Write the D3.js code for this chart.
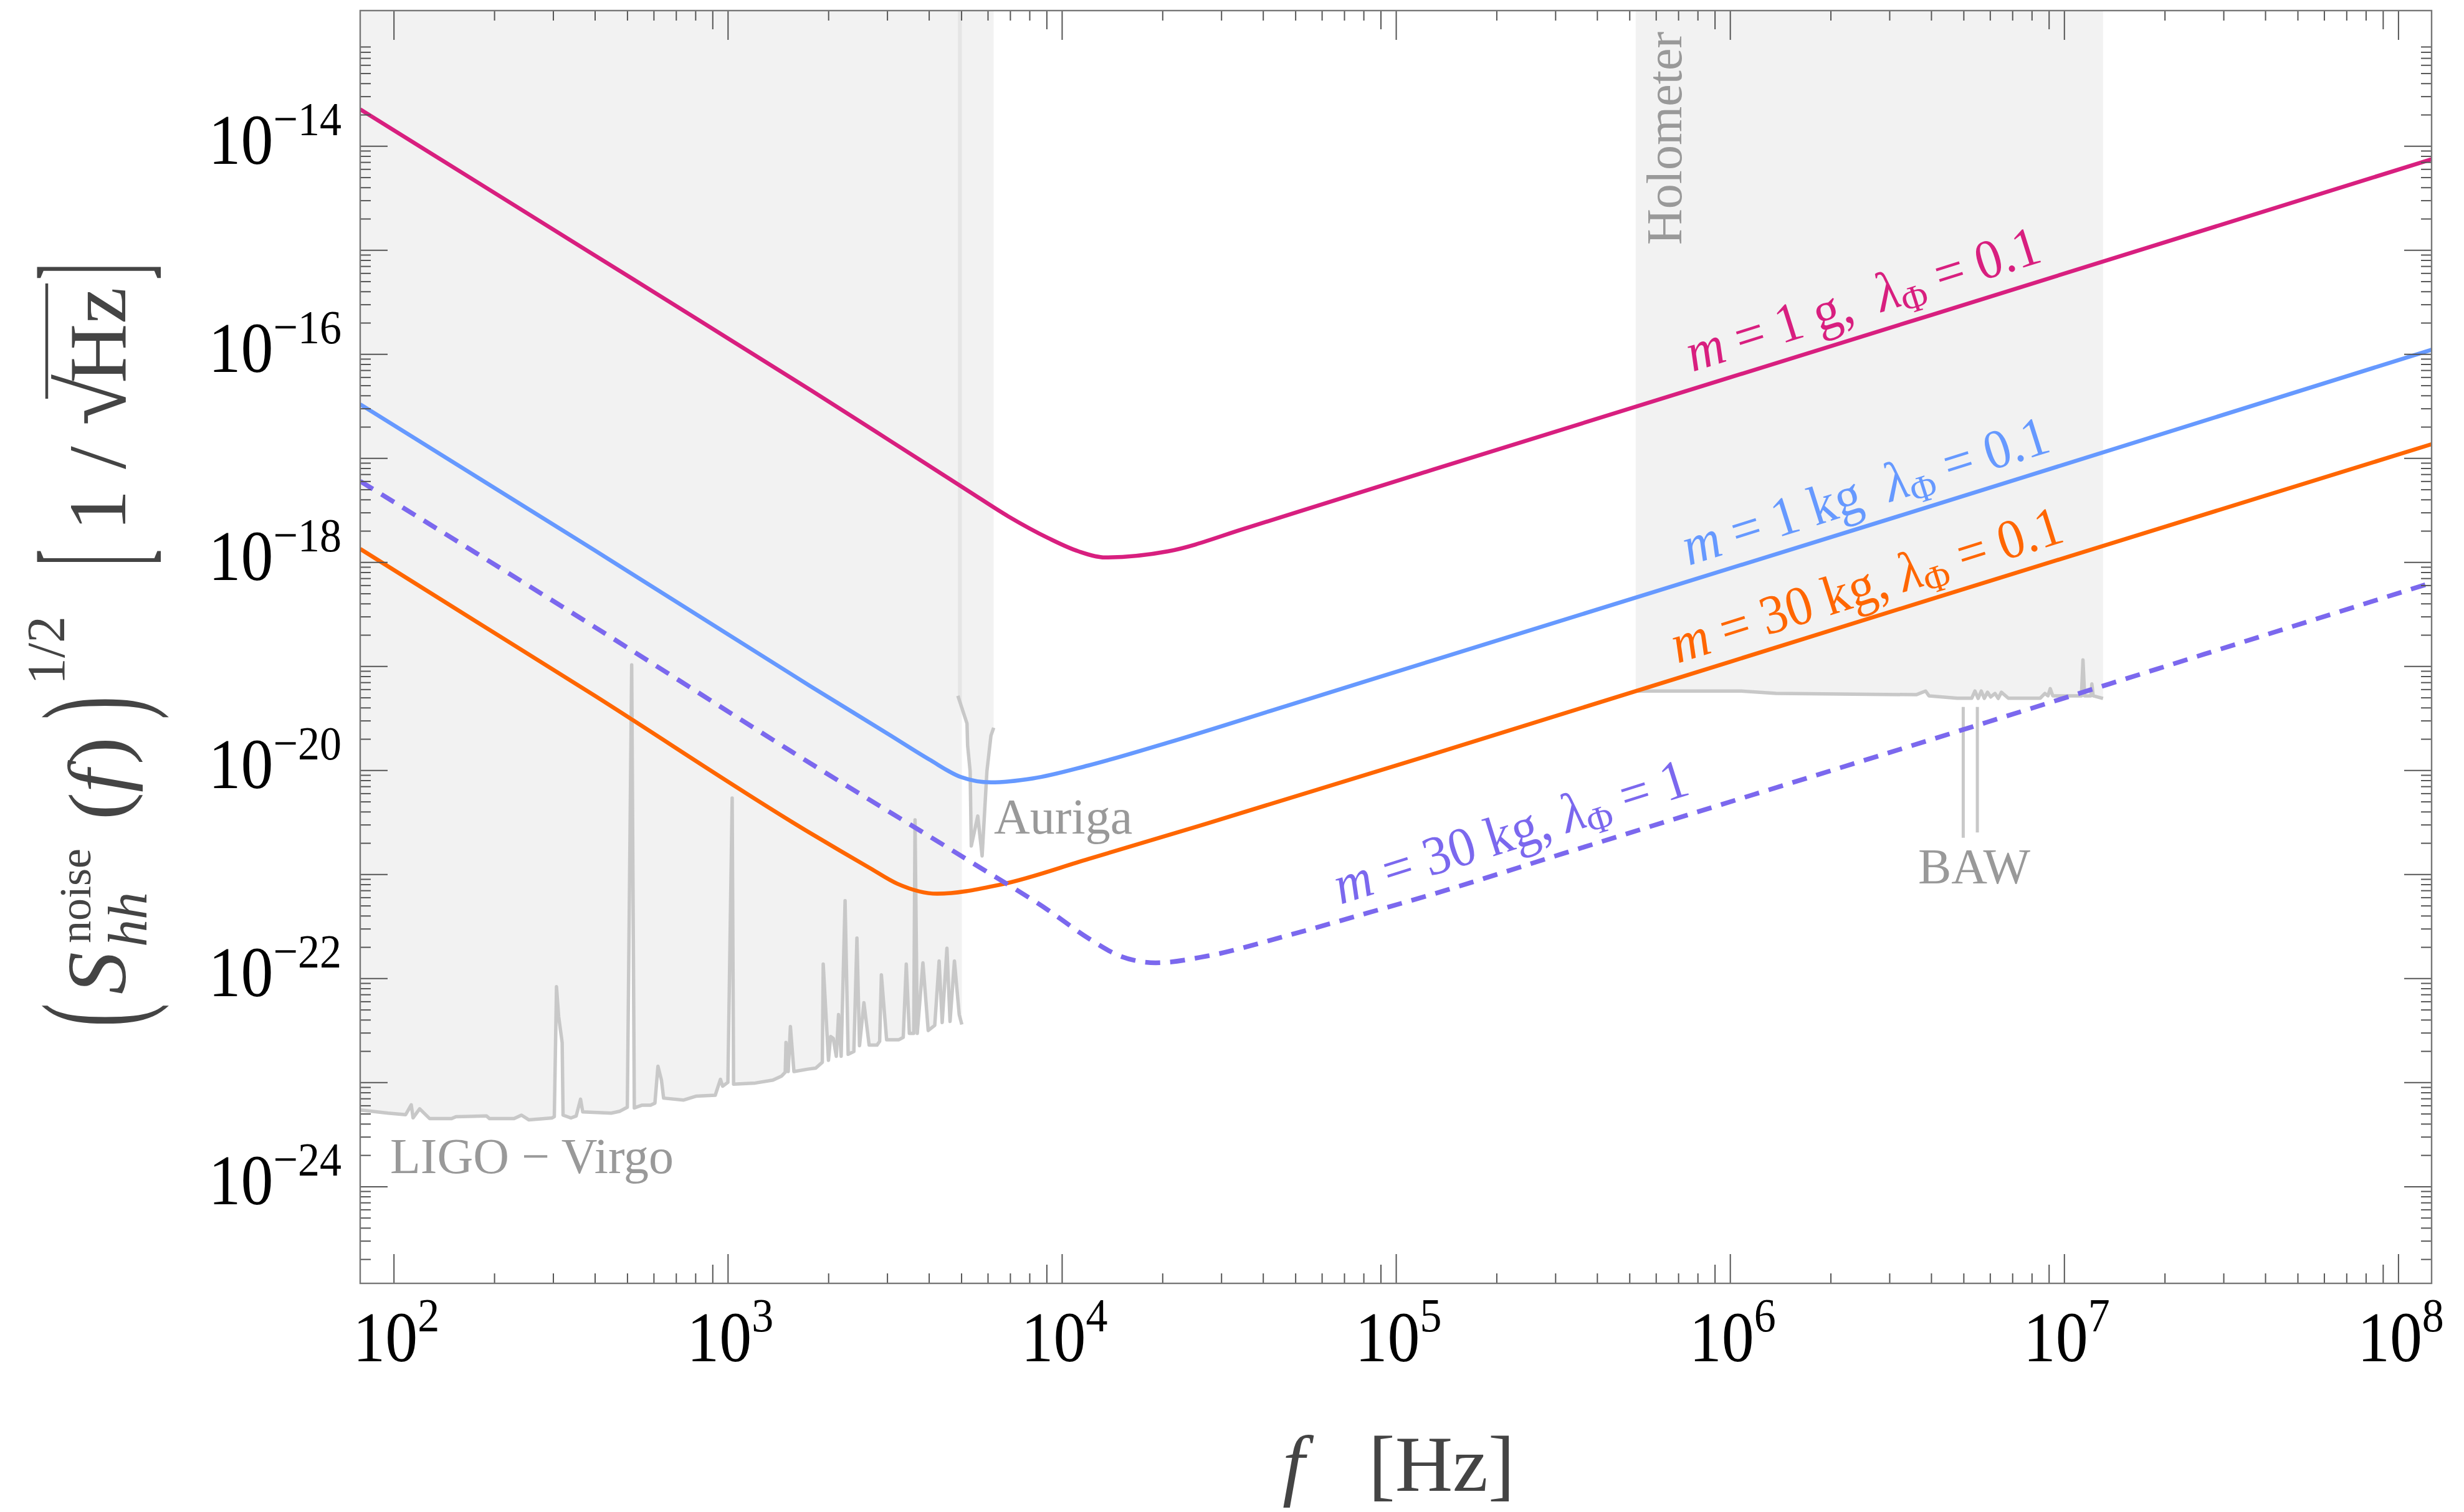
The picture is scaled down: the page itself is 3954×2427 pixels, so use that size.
<!DOCTYPE html>
<html>
<head>
<meta charset="utf-8">
<script src="https://cdn.jsdelivr.net/npm/d3@7"></script>
<style>
html, body { margin: 0; padding: 0; background: #fff; }
svg { display: block; font-family: "Liberation Serif", "Times New Roman", serif; }
text { white-space: pre; }
</style>
</head>
<body>
<svg id="chart" width="3954" height="2427"></svg>
<script>
// ---- data (f in Hz, amplitude in 1/sqrt(Hz)) ----
const xDomain = [79.4, 1.259e8];
const yDomain = [1.17e-25, 2e-13];

// m = 1 g, lambda = 0.1
const pinkF = [79.4, 398, 1778, 3048, 5272, 6918, 9120, 11220, 13490, 20750, 35890, 62090, 129400, 3.98e6, 1.259e8];
const pinkH = [2.25e-14, 8.97e-16, 4.47e-17, 1.48e-17, 4.79e-18, 2.75e-18, 1.70e-18, 1.27e-18, 1.11e-18, 1.27e-18, 2.14e-18, 3.72e-18, 7.76e-18, 2.36e-16, 7.45e-15];

// m = 1 kg, lambda = 0.1
const blueF = [79.4, 398, 1762, 3048, 4009, 4989, 6138, 8185, 12000, 20750, 47210, 129400, 3.98e6, 1.259e8];
const blueH = [3.29e-17, 1.31e-18, 6.47e-20, 2.19e-20, 1.27e-20, 8.60e-21, 7.64e-21, 8.34e-21, 1.11e-20, 1.84e-20, 4.17e-20, 1.14e-19, 3.44e-18, 1.10e-16];

// m = 30 kg, lambda = 0.1
const orangeF = [79.4, 398, 1762, 2661, 3221, 4236, 6561, 12000, 27290, 129400, 3.98e6, 1.259e8];
const orangeH = [1.34e-18, 5.25e-20, 2.50e-21, 1.15e-21, 8.10e-22, 6.50e-22, 7.96e-22, 1.40e-21, 3.09e-21, 1.43e-20, 4.39e-19, 1.36e-17];

// m = 30 kg, lambda = 1 (dashed)
const purpleF = [79.4, 398, 1811, 5272, 9120, 12000, 14930, 19100, 27290, 47210, 81660, 129400, 316200, 3.98e6, 1.259e8];
const purpleH = [6.00e-18, 2.40e-19, 1.11e-20, 1.35e-21, 4.50e-22, 2.43e-22, 1.64e-22, 1.41e-22, 1.64e-22, 2.57e-22, 4.22e-22, 6.46e-22, 1.58e-21, 1.96e-20, 6.34e-19];

// LIGO - Virgo noise
const ligoF = [79.4, 96.3, 108.6, 112.9, 114.3, 119.6, 128.2, 149.1, 153.6, 189.7, 193.7, 229.3, 241.3, 254.1, 298.1, 302.6, 307.2, 311.8, 319.4, 321.4,
  339.3, 351.8, 362.6, 368.1, 447.7, 475.6, 500.5, 515.8, 525.2, 552.9, 587.3, 605.3, 618.1, 633.3, 642.7, 736.1, 805.8, 917.3, 951.1, 965.4,
  1001, 1031, 1041, 1210, 1365, 1450, 1486, 1494, 1517, 1540, 1578, 1738, 1834, 1919, 1931, 2002, 2032, 2070, 2113, 2146,
  2185, 2245, 2293, 2385, 2436, 2480, 2556, 2650, 2797, 2849, 2883, 2989, 3253, 3352, 3423, 3496, 3603, 3636, 3692, 3839,
  3981, 4165, 4292, 4384, 4530, 4628, 4770, 4930, 5020];
const ligoH = [5.43e-24, 5.06e-24, 4.89e-24, 6.08e-24, 4.56e-24, 5.57e-24, 4.48e-24, 4.48e-24, 4.68e-24, 4.75e-24, 4.48e-24, 4.48e-24, 4.84e-24, 4.36e-24, 4.55e-24, 4.68e-24, 8.30e-23, 4.29e-23, 2.42e-23, 4.84e-24,
  4.55e-24, 4.75e-24, 6.89e-24, 5.20e-24, 5.06e-24, 5.28e-24, 5.77e-24, 1.03e-19, 5.68e-24, 6.03e-24, 6.03e-24, 6.31e-24, 1.43e-23, 1.05e-23, 7.06e-24, 6.76e-24, 7.38e-24, 7.52e-24, 1.07e-23, 9.20e-24,
  1.00e-23, 5.41e-21, 9.62e-24, 9.86e-24, 1.05e-23, 1.15e-23, 1.25e-23, 2.42e-23, 1.27e-23, 3.44e-23, 1.27e-23, 1.34e-23, 1.37e-23, 1.56e-23, 1.37e-22, 1.63e-23, 2.76e-23, 2.64e-23, 1.78e-23, 4.48e-23,
  1.78e-23, 5.58e-22, 1.86e-23, 1.98e-23, 2.44e-22, 2.25e-23, 5.83e-23, 2.28e-23, 2.28e-23, 2.48e-23, 1.08e-22, 2.57e-23, 2.57e-23, 2.71e-23, 1.37e-22, 2.96e-23, 2.96e-23, 3.33e-21, 2.96e-23, 1.41e-22,
  3.15e-23, 3.53e-23, 1.47e-22, 3.76e-23, 1.95e-22, 3.85e-23, 1.47e-22, 4.48e-23, 3.60e-23];

// Auriga
const aurigaF = [4885, 5202, 5224, 5316, 5358, 5602, 5773, 5967, 6135, 6252];
const aurigaH = [5.19e-20, 2.81e-20, 1.73e-20, 9.75e-21, 1.87e-21, 3.63e-21, 1.50e-21, 9.75e-21, 2.15e-20, 2.56e-20];

// Holometer
const holoF = [5.22e5, 1.08e6, 1.374e6, 3.61e6, 3.85e6, 3.94e6, 4.79e6, 5.29e6, 5.41e6, 5.53e6, 5.65e6, 5.77e6, 5.90e6, 6.03e6, 6.21e6,
  6.35e6, 6.49e6, 6.81e6, 8.48e6, 8.76e6, 8.95e6, 9.09e6, 9.25e6, 1.127e7, 1.139e7, 1.152e7, 1.203e7, 1.211e7, 1.222e7, 1.308e7];
const holoH = [5.77e-20, 5.77e-20, 5.47e-20, 5.32e-20, 5.77e-20, 5.19e-20, 4.92e-20, 4.92e-20, 5.77e-20, 4.90e-20, 5.77e-20, 4.90e-20, 5.62e-20, 5.06e-20, 5.47e-20,
  4.90e-20, 5.62e-20, 4.92e-20, 4.92e-20, 5.47e-20, 5.19e-20, 6.08e-20, 5.19e-20, 5.19e-20, 1.15e-19, 5.19e-20, 5.19e-20, 6.75e-20, 5.19e-20, 4.90e-20];

// BAW resonances
const bawF = [4.99e6, 5.5e6];
const bawTop = [4.06e-20, 4.06e-20];
const bawBottom = [2.24e-21, 2.52e-21];

// tick labels (powers of ten)
const xLabelExp = [2, 3, 4, 5, 6, 7, 8];
const yLabelExp = [-14, -16, -18, -20, -22, -24];

// ---- layout ----
const plot = { left: 578, right: 3902, top: 17, bottom: 2060 };

const svg = d3.select("#chart");

const x = d3.scaleLog().domain(xDomain).range([plot.left, plot.right]);
const y = d3.scaleLog().domain(yDomain).range([plot.bottom, plot.top]);

const zip = (a, b) => a.map((v, i) => [v, b[i]]);

svg.append("defs").append("clipPath").attr("id", "clip")
  .append("rect")
  .attr("x", plot.left).attr("y", plot.top)
  .attr("width", plot.right - plot.left).attr("height", plot.bottom - plot.top);

const g = svg.append("g").attr("clip-path", "url(#clip)");

// excluded regions: fill from the noise curve up to the top
const fillArea = d3.area()
  .x(d => x(d[0]))
  .y0(plot.top)
  .y1(d => y(d[1]));

const noise = [zip(ligoF, ligoH), zip(aurigaF, aurigaH), zip(holoF, holoH)];
noise.forEach(pts => {
  g.append("path")
    .datum(pts)
    .attr("d", fillArea)
    .attr("fill", "#000")
    .attr("fill-opacity", 0.05);
});

// noise curves
const rawLine = d3.line().x(d => x(d[0])).y(d => y(d[1]));
noise.forEach(pts => {
  g.append("path")
    .datum(pts)
    .attr("d", rawLine)
    .attr("fill", "none")
    .attr("stroke", "#c8c8c8")
    .attr("stroke-width", 5.5)
    .attr("stroke-linejoin", "round");
});
bawF.forEach((f, i) => {
  g.append("path")
    .datum([[f, bawTop[i]], [f, bawBottom[i]]])
    .attr("d", rawLine)
    .attr("fill", "none")
    .attr("stroke", "#c8c8c8")
    .attr("stroke-width", 5);
});

// model curves
const smooth = d3.line()
  .x(d => x(d[0]))
  .y(d => y(d[1]))
  .curve(d3.curveMonotoneX);

const series = [
  { f: pinkF, h: pinkH, color: "#d81f7f", dash: null, w: 6.5 },
  { f: blueF, h: blueH, color: "#6699ff", dash: null, w: 6.5 },
  { f: orangeF, h: orangeH, color: "#ff6600", dash: null, w: 6.5 },
  { f: purpleF, h: purpleH, color: "#7b68ee", dash: "24,16", w: 7.5 }
];
series.forEach(s => {
  g.append("path")
    .datum(zip(s.f, s.h))
    .attr("d", smooth)
    .attr("fill", "none")
    .attr("stroke", s.color)
    .attr("stroke-width", s.w)
    .attr("stroke-dasharray", s.dash);
});

// ---- ticks (inside, on all four sides) ----
const xMajor = d3.range(2, 9).map(e => Math.pow(10, e));
const xMinor = [], xNine = [];
d3.range(2, 8).forEach(e => d3.range(2, 10).forEach(k => (k === 9 ? xNine : xMinor).push(k * Math.pow(10, e))));
const yMajor = d3.range(-24, -13).map(e => Math.pow(10, e));
const yMinor = [];
d3.range(-25, -13).forEach(e => d3.range(2, 10).forEach(k => yMinor.push(k * Math.pow(10, e))));

function tickLayer(axis, values, size, transform) {
  const t = svg.append("g")
    .attr("transform", transform)
    .call(axis.tickValues(values).tickSize(-size).tickFormat(""));
  t.select(".domain").remove();
  t.selectAll(".tick line").attr("stroke", "#555").attr("stroke-width", 2);
}
[[xMajor, 47], [xNine, 30], [xMinor, 16]].forEach(([v, s]) => {
  tickLayer(d3.axisBottom(x), v, s, `translate(0,${plot.bottom})`);
  tickLayer(d3.axisTop(x), v, s, `translate(0,${plot.top})`);
});
[[yMajor, 44], [yMinor, 17]].forEach(([v, s]) => {
  tickLayer(d3.axisLeft(y), v, s, `translate(${plot.left},0)`);
  tickLayer(d3.axisRight(y), v, s, `translate(${plot.right},0)`);
});

// frame
svg.append("rect")
  .attr("x", plot.left).attr("y", plot.top)
  .attr("width", plot.right - plot.left).attr("height", plot.bottom - plot.top)
  .attr("fill", "none").attr("stroke", "#777").attr("stroke-width", 2.4);

// ---- tick labels ----
yLabelExp.forEach(e => {
  const t = svg.append("text")
    .attr("transform", `translate(548,${y(Math.pow(10, e)) + 29}) scale(1,1.1)`)
    .attr("text-anchor", "end")
    .attr("font-size", 104)
    .attr("fill", "#000");
  t.append("tspan").text("10");
  t.append("tspan").attr("dy", -42).attr("font-size", 70).text("\u2212" + Math.abs(e));
});
xLabelExp.forEach(e => {
  const t = svg.append("text")
    .attr("transform", `translate(${x(Math.pow(10, e)) + 4},2185) scale(1,1.1)`)
    .attr("text-anchor", "middle")
    .attr("font-size", 104)
    .attr("fill", "#000");
  t.append("tspan").text("10");
  t.append("tspan").attr("dy", -44).attr("font-size", 70).text(e);
});

// ---- axis titles ----
const titleColor = "#444";
const xt = svg.append("g").attr("fill", titleColor).attr("font-size", 128);
xt.append("text").attr("x", 2058).attr("y", 2393).attr("font-style", "italic").text("f");
xt.append("text").attr("x", 2196).attr("y", 2393).text("[Hz]");

const yt = svg.append("g")
  .attr("transform", "translate(201,1652) rotate(-90)")
  .attr("fill", titleColor);
function bigGlyph(ch, x0, size, sx, dy) {
  yt.append("text")
    .attr("transform", `translate(${x0},${dy}) scale(${sx},1)`)
    .attr("font-size", size)
    .text(ch);
}
bigGlyph("(", 4, 225, 0.5, 22);
yt.append("text").attr("x", 56).attr("y", 0).attr("font-size", 136).attr("font-style", "italic").text("S");
yt.append("text").attr("x", 138).attr("y", -56).attr("font-size", 72).text("noise");
yt.append("text").attr("x", 132).attr("y", 34).attr("font-size", 88).attr("font-style", "italic").text("hh");
const fText = yt.append("text").attr("x", 336).attr("y", 0).attr("font-size", 132);
fText.append("tspan").text("(");
fText.append("tspan").attr("font-style", "italic").text("f");
fText.append("tspan").attr("dx", 8).text(")");
bigGlyph(")", 497, 225, 0.5, 22);
yt.append("text").attr("x", 553).attr("y", -98).attr("font-size", 86).text("1/2");
bigGlyph("[", 744, 240, 0.33, 25);
const unit = yt.append("text").attr("x", 800).attr("y", 0).attr("font-size", 132);
unit.append("tspan").text("1 / ");
unit.append("tspan").attr("font-size", 150).text("\u221A");
const hz = yt.append("text").attr("x", 1037).attr("y", 0).attr("font-size", 132).text("Hz");
const hzEnd = 1037 + hz.node().getComputedTextLength();
yt.append("line")
  .attr("x1", 1012).attr("x2", hzEnd + 6)
  .attr("y1", -126).attr("y2", -126)
  .attr("stroke", titleColor).attr("stroke-width", 4.5);
bigGlyph("]", Math.max(1186, hzEnd + 12), 240, 0.33, 25);

// ---- in-plot labels ----
const grayText = "#999";
svg.append("text").attr("x", 626).attr("y", 1883).attr("font-size", 80).attr("fill", grayText).text("LIGO \u2212 Virgo");
svg.append("text").attr("x", 1595).attr("y", 1338).attr("font-size", 80).attr("fill", grayText).text("Auriga");
svg.append("text").attr("x", 3168).attr("y", 1418).attr("font-size", 80).attr("text-anchor", "middle").attr("fill", grayText).text("BAW");
svg.append("text").attr("transform", "translate(2698,393) rotate(-90)").attr("font-size", 80).attr("fill", grayText).text("Holometer");

// curve labels along the lines
const labels = [
  { x: 2716, y: 597, color: "#d81f7f", mass: "1 g,  ", lam: "0.1" },
  { x: 2710, y: 908, color: "#6699ff", mass: "1 kg  ", lam: "0.1" },
  { x: 2692, y: 1065, color: "#ff6600", mass: "30 kg, ", lam: "0.1" },
  { x: 2151, y: 1452, color: "#7b68ee", mass: "30 kg, ", lam: "1" }
];
labels.forEach(l => {
  const t = svg.append("text")
    .attr("transform", `translate(${l.x},${l.y}) rotate(-17.5) scale(1,1.06)`)
    .attr("font-size", 84)
    .attr("fill", l.color);
  t.append("tspan").attr("font-style", "italic").text("m");
  t.append("tspan").text(" = " + l.mass);
  t.append("tspan").attr("font-style", "italic").text("\u03BB");
  t.append("tspan").attr("font-size", 58).attr("dy", 15).text("\u03A6");
  t.append("tspan").attr("dy", -15).text(" = " + l.lam);
});
</script>
</body>
</html>
